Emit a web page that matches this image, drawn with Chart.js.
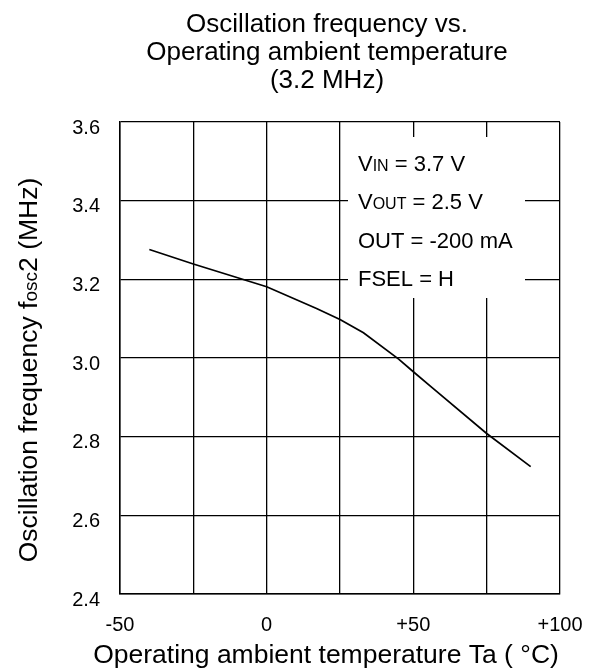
<!DOCTYPE html>
<html>
<head>
<meta charset="utf-8">
<script src="https://cdn.jsdelivr.net/npm/chart.js@4.4.1/dist/chart.umd.min.js"></script>
<style>
  html, body { margin: 0; padding: 0; background: #fff; }
  #wrap { width: 593px; height: 671px; }
</style>
</head>
<body>
<div id="wrap"><canvas id="oscChart" width="593" height="671"></canvas></div>
<script>
// Data
const temperatures = [-40, -25, 0, 17, 25, 33, 45, 50, 56, 75, 90];
const frequencies = [3.276, 3.239, 3.181, 3.126, 3.098, 3.064, 2.997, 2.965, 2.927, 2.808, 2.724];

const xTicks = [-50, 0, 50, 100];
const yTicks = [2.4, 2.6, 2.8, 3.0, 3.2, 3.4, 3.6];

const titleLines = ["Oscillation frequency vs.", "Operating ambient temperature", "(3.2 MHz)"];
const xTitle = "Operating ambient temperature Ta ( \u00B0C)";
// each condition line: pieces of [text, small?]
const conditions = [
    [["V", false], ["IN", true], [" = 3.7 V", false]],
    [["V", false], ["OUT", true], [" = 2.5 V", false]],
    [["OUT = -200 mA", false]],
    [["FSEL = H", false]]
];
const yTitle = [["Oscillation frequency f", false], ["osc", true], ["2 (MHz)", false]];

const FONT = '"Liberation Sans", Arial, sans-serif';

function drawPieces(ctx, pieces, x, y, big, small) {
    pieces.forEach(p => {
        ctx.font = (p[1] ? small : big) + "px " + FONT;
        ctx.fillText(p[0], x, y);
        x += ctx.measureText(p[0]).width;
    });
}

function piecesWidth(ctx, pieces, big, small) {
    let w = 0;
    pieces.forEach(p => {
        ctx.font = (p[1] ? small : big) + "px " + FONT;
        w += ctx.measureText(p[0]).width;
    });
    return w;
}

const textPlugin = {
    id: "textPlugin",
    beforeDatasetsDraw(chart) {
        const ctx = chart.ctx;
        const a = chart.chartArea;
        // white box for the conditions, it hides the grid behind it
        ctx.save();
        ctx.fillStyle = "#fff";
        ctx.fillRect(a.left + 228, a.top + 15, 177, 161);
        ctx.fillStyle = "#000";
        ctx.textBaseline = "alphabetic";
        ctx.textAlign = "left";
        conditions.forEach((line, i) => {
            drawPieces(ctx, line, a.left + 238, a.top + 49 + i * 38.3, 22, 16);
        });
        ctx.restore();
    },
    afterDraw(chart) {
        const ctx = chart.ctx;
        ctx.save();
        ctx.fillStyle = "#000";
        ctx.textBaseline = "alphabetic";

        // chart title
        ctx.textAlign = "center";
        ctx.font = "26px " + FONT;
        titleLines.forEach((t, i) => ctx.fillText(t, 327, 32 + i * 28));

        // x axis title
        ctx.font = "26.5px " + FONT;
        ctx.fillText(xTitle, 326, 663);

        // y axis title, rotated
        ctx.textAlign = "left";
        const w = piecesWidth(ctx, yTitle, 26.5, 19);
        ctx.translate(37, 370);
        ctx.rotate(-Math.PI / 2);
        drawPieces(ctx, yTitle, -w / 2, 0, 26.5, 19);
        ctx.restore();
    }
};

new Chart(document.getElementById("oscChart"), {
    type: "line",
    data: {
        datasets: [{
            data: temperatures.map((t, i) => ({ x: t, y: frequencies[i] })),
            borderColor: "#000",
            borderWidth: 1.7,
            pointRadius: 0,
            tension: 0,
            fill: false
        }]
    },
    options: {
        responsive: false,
        animation: false,
        devicePixelRatio: 1,
        layout: { padding: { left: 0, top: 122, right: 33, bottom: 0 } },
        plugins: {
            legend: { display: false },
            title: { display: false },
            tooltip: { enabled: false }
        },
        scales: {
            x: {
                type: "linear",
                min: -50,
                max: 100,
                afterFit: s => {
                    s.height = 77;
                    s.paddingLeft = 0;
                    s.paddingRight = 0;
                },
                ticks: {
                    stepSize: 25,
                    autoSkip: false,
                    maxRotation: 0,
                    padding: 19,
                    color: "#000",
                    font: { family: FONT, size: 20 },
                    callback: v => xTicks.includes(v) ? (v > 0 ? "+" + v : String(v)) : ""
                },
                grid: { color: "#000", lineWidth: 1.3, drawTicks: false },
                border: { color: "#000", width: 1.5 }
            },
            y: {
                min: 2.4,
                max: 3.6,
                afterFit: s => {
                    s.width = 120;
                    s.paddingTop = 0;
                    s.paddingBottom = 0;
                },
                afterBuildTicks: s => { s.ticks = yTicks.map(v => ({ value: v })); },
                ticks: {
                    padding: 20,
                    color: "#000",
                    // empty first line nudges the labels a few px down, as in the original
                    font: { family: FONT, size: 20, lineHeight: 0.6 },
                    callback: v => ["", v.toFixed(1)]
                },
                grid: { color: "#000", lineWidth: 1.3, drawTicks: false },
                border: { color: "#000", width: 1.5 }
            }
        }
    },
    plugins: [textPlugin]
});
</script>
</body>
</html>
